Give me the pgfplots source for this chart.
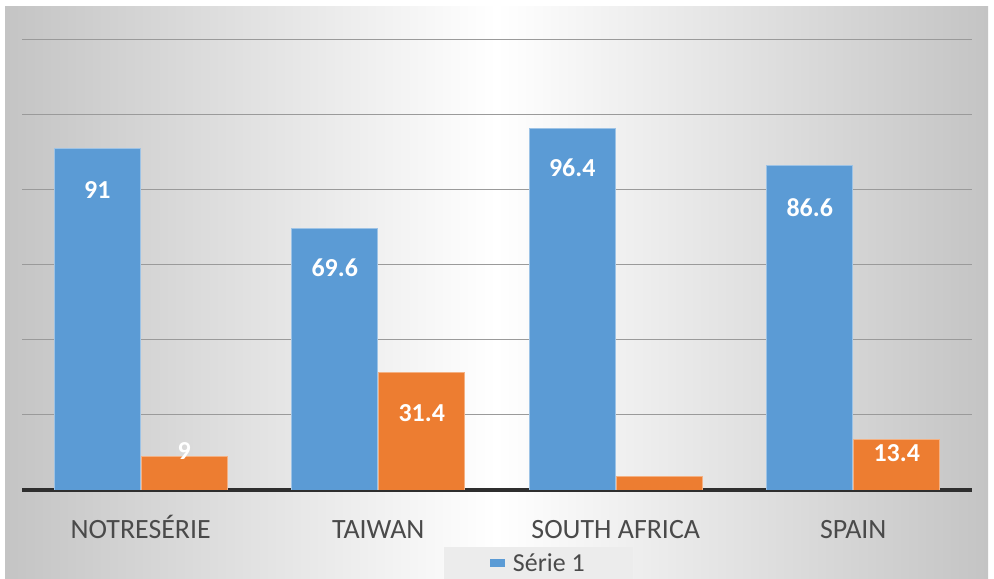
\documentclass[border=0pt]{standalone}
\usepackage{pgfplots}
\pgfplotsset{compat=1.18}
\usepackage{pgfplotstable}
\usepackage{fontspec}
\setmainfont{Carlito}
\definecolor{xlblue}{HTML}{5B9BD5}
\definecolor{xlorange}{HTML}{ED7D31}
\definecolor{txtgray}{HTML}{4A4A4A}
\definecolor{gridgray}{HTML}{9A9A9A}
\definecolor{basecol}{HTML}{2E2E2E}
\definecolor{edgegray}{HTML}{C4C4C4}
\definecolor{botgray}{HTML}{E2E2E2}
\definecolor{legbg}{HTML}{ECECEC}

\pgfplotstableread{
x y lab off
0 91 91 -41
1 69.6 69.6 -39
2 96.4 96.4 -39
3 86.6 86.6 -42
}\blueT
\pgfplotstableread{
x y lab off
0 9 9 5
1 31.4 31.4 -41
2 3.6 {} 0
3 13.4 13.4 -13
}\orangeT

\begin{document}
\begin{tikzpicture}
\useasboundingbox (0,0) rectangle (994bp,579bp);
\clip (0,0) rectangle (994bp,579bp);
\fill[white] (0,0) rectangle (994bp,579bp);
\shade[left color=edgegray, right color=edgegray, middle color=white] (5bp,0) rectangle (988bp,572bp);
\begin{axis}[
  at={(22bp,89bp)}, anchor=south west,
  scale only axis, width=950bp, height=480bp,
  xmin=-0.5, xmax=3.5, ymin=0, ymax=128,
  ybar=1bp, bar width=86bp,
  axis line style={draw=none},
  tick style={draw=none},
  xtick={0,1,2,3},
  xticklabels={NOTRESÉRIE, TAIWAN, SOUTH AFRICA, SPAIN},
  xticklabel style={anchor=base, yshift=-44bp, font=\fontsize{28}{28}\selectfont, text=txtgray},
  ytick={20,40,60,80,100,120},
  yticklabels={},
  ymajorgrids,
  major grid style={gridgray, line width=1bp},
  extra y ticks={0},
  extra y tick labels={},
  extra y tick style={major grid style={basecol, line width=3.5bp}},
  point meta=explicit symbolic,
  nodes near coords,
  visualization depends on={\thisrow{off} \as \off},
  every node near coord/.append style={anchor=center, yshift=\off bp, text=white, font=\fontsize{26}{26}\selectfont\bfseries},
  legend style={at={(0.444,-0.118)}, anchor=north west, draw=none, fill=legbg, font=\fontsize{26}{26}\selectfont, text=txtgray, inner xsep=46bp, inner ysep=5bp},
  legend image code/.code={\fill[xlblue] (0bp,-3bp) rectangle (14bp,4bp); \path (20bp,0bp);},
]
\addplot[fill=xlblue, draw=xlblue!60!white, line width=1bp] table[x=x, y=y, meta=lab] {\blueT};
\addplot[fill=xlorange, draw=xlorange!60!white, line width=1bp] table[x=x, y=y, meta=lab] {\orangeT};
\legend{Série 1}
\end{axis}
\end{tikzpicture}
\end{document}
